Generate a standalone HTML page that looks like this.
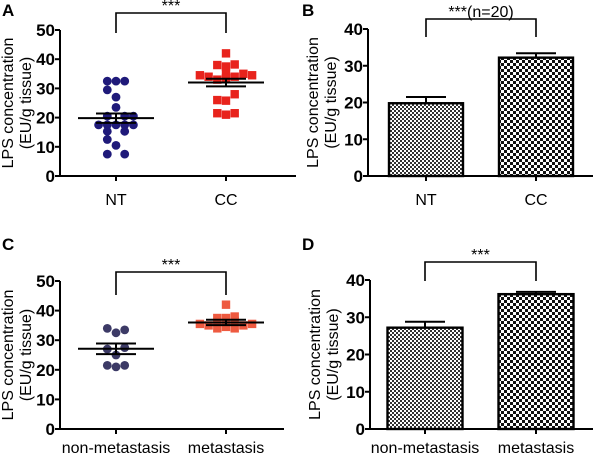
<!DOCTYPE html>
<html><head><meta charset="utf-8"><style>
body{margin:0;background:#fff}
svg{display:block;font-family:"Liberation Sans",Arial,sans-serif}
.tk{font-weight:bold;font-size:17px}
.lab{font-size:16px}
</style></head><body>
<svg id="fig" width="600" height="457" viewBox="0 0 600 457">
<defs>
<pattern id="chkFine" width="4" height="4" patternUnits="userSpaceOnUse"><rect width="4" height="4" fill="#fff"/><rect width="2" height="2" fill="#333"/><rect x="2" y="2" width="2" height="2" fill="#333"/></pattern>
<pattern id="chkCoarse" width="6" height="6" patternUnits="userSpaceOnUse"><rect width="6" height="6" fill="#fff"/><rect width="3" height="3" fill="#111"/><rect x="3" y="3" width="3" height="3" fill="#111"/></pattern>
</defs>
</svg>
<script>
// ---- data ----
const catsAB = ["NT","CC"];
const catsCD = ["non-metastasis","metastasis"];
const ntA = [32.5,32.5,32.5,29.5,27,23.5,20.5,20.5,20.5,17.5,17.5,17.5,17.5,17.5,15.3,15.3,12.5,10.5,7.5,7.5];
const ntAoff = [-1,0,1,-1,0,0,-1,1,2,-2,-1,0,1,2,-1,1,-1,0,-1,1];
const ccA = [42,38,38.2,37.5,35.2,35,34.5,34.5,34,34,33.5,33,28,26,25.8,21.5,21,21.5];
const ccAoff = [0,-1,1,0,0,2,-3,3,-2,1,0,-1,1,-1,0,-1,0,1];
const meanA = [19.8,32];
const semA = [1.6,1.3];
const meanB = [19.8,32.2];
const errB = [1.7,1.2];
const nmC = [34,33.5,32.5,27,27.5,25,21.5,21,21.5];
const nmCoff = [-1,1,0,-1,1,0,-1,0,1];
const mC = [42,38,37.5,37.5,36.5,36,35.5,35.5,35,35,34.5,34,34];
const mCoff = [0,1,-1,0,1,-1,-3,3,-2,2,0,-1,1];
const meanC = [27.1,36];
const semC = [1.8,0.9];
const meanD = [27.2,36.2];
const errD = [1.6,0.6];
const ticksA = [0,10,20,30,40,50];
const ticksB = [0,10,20,30,40];

const S = document.getElementById('fig');
const NS = "http://www.w3.org/2000/svg";
function el(tag, a, parent){const e=document.createElementNS(NS,tag);for(const k in a)e.setAttribute(k,a[k]);(parent||S).appendChild(e);return e;}
function line(x1,y1,x2,y2,w,p){return el('line',{x1,y1,x2,y2,stroke:'#000','stroke-width':w||2},p);}
function text(x,y,t,cls,anchor,p){const e=el('text',{x,y,'text-anchor':anchor||'middle',class:cls||''},p);e.textContent=t;return e;}

function panel(o){
  const g=el('g',{});
  
  
  const yS=v=>o.y0-(v/o.vmax)*(o.y0-o.yTop);
  const t=text(o.lx,o.ly,o.letter,'','start',g);t.setAttribute('font-weight','bold');t.setAttribute('font-size','17');
  
  const ya=line(o.ax,o.yTop,o.ax,o.y0,2,g);
  const xa=line(o.ax,o.y0,o.xEnd,o.y0,2,g);
  o.ticks.forEach(v=>{const y=yS(v);line(o.ax-5,y,o.ax,y,2,g);
    const tl=text(o.ax-5,y+6,String(v),'tk','end',g);
    });
  o.cats.forEach((c,i)=>{line(o.cx[i],o.y0,o.cx[i],o.y0+5,2,g);
    const cl=text(o.cx[i],o.y0+o.catDy,c,'lab','middle',g);cl.setAttribute('font-size','17');
    });
  const cy=(o.yTop+o.y0)/2;
  const yt=el('text',{transform:`translate(${o.tx},${cy}) rotate(-90)`,'text-anchor':'middle',class:'lab'},g);
  yt.textContent='LPS concentration';
  
  const yt2=el('text',{transform:`translate(${o.tx+18},${cy}) rotate(-90)`,'text-anchor':'middle',class:'lab'},g);
  yt2.textContent='(EU/g tissue)';
  
  const bg=el('path',{d:`M${o.cx[0]},${o.bLow}V${o.bTop}H${o.cx[1]}V${o.bLow}`,fill:'none',stroke:'#000','stroke-width':1.6},g);
  
  const st=text((o.cx[0]+o.cx[1])/2,o.bTop-2,o.sig,'lab','middle',g);
  
  return {g,yS};
}

function scatterPanel(o){
  const {g,yS}=panel(o);
  const step=8.7;
  o.series.forEach((s,i)=>{
    s.vals.forEach((v,j)=>{
      const x=o.cx[i]+s.off[j]*step, y=yS(v);
      let m;
      if(s.shape==='circle') m=el('circle',{cx:x,cy:y,r:4.4,fill:s.color},g);
      else m=el('rect',{x:x-4.2,y:y-4.2,width:8.4,height:8.4,fill:s.color},g);
      
      
    });
  });
  o.mean.forEach((m,i)=>{
    const x=o.cx[i];
    const ml=line(x-38,yS(m),x+38,yS(m),2,g);
    
    line(x,yS(m-o.sem[i]),x,yS(m+o.sem[i]),2,g);
    const e1=line(x-20,yS(m+o.sem[i]),x+20,yS(m+o.sem[i]),2,g);
    
    line(x-20,yS(m-o.sem[i]),x+20,yS(m-o.sem[i]),2,g);
  });
}

function barPanel(o){
  const {g,yS}=panel(o);
  o.mean.forEach((m,i)=>{
    const x=o.cx[i], w=o.bw;
    const top=yS(m);
    line(x,top,x,yS(m+o.err[i]),2,g);
    line(x-20,yS(m+o.err[i]),x+20,yS(m+o.err[i]),2,g);
    const r=el('rect',{x:x-w/2,y:top,width:w,height:o.y0-top,fill:i===0?'url(#chkFine)':'url(#chkCoarse)',stroke:'#000','stroke-width':2.4},g);
    
    
  });
  line(o.ax,o.y0,o.xEnd,o.y0,2,g);
}

scatterPanel({letter:'A',lx:2,ly:16,ax:60,xEnd:296,y0:176,yTop:30,vmax:50,ticks:ticksA,cats:catsAB,cx:[116,226],tx:13,catDy:29,
  bTop:13,bLow:33,sig:'***',
  series:[{vals:ntA,off:ntAoff,shape:'circle',color:'#1f1a7a'},{vals:ccA,off:ccAoff,shape:'square',color:'#e8231c'}],
  mean:meanA,sem:semA});
barPanel({letter:'B',lx:302,ly:16,ax:368,xEnd:593,y0:176,yTop:29,vmax:40,ticks:ticksB,cats:catsAB,cx:[426,536],tx:318,catDy:29,
  bTop:19,bLow:37,sig:'***(n=20)',bw:74,mean:meanB,err:errB});
scatterPanel({letter:'C',lx:2,ly:250,ax:60,xEnd:284,y0:429,yTop:281,vmax:50,ticks:ticksA,cats:catsCD,cx:[116,226],tx:13,catDy:24,
  bTop:272,bLow:295,sig:'***',
  series:[{vals:nmC,off:nmCoff,shape:'circle',color:'#3c3a66'},{vals:mC,off:mCoff,shape:'square',color:'#ee5a40'}],
  mean:meanC,sem:semC});
barPanel({letter:'D',lx:302,ly:250,ax:370,xEnd:593,y0:429,yTop:280,vmax:40,ticks:ticksB,cats:catsCD,cx:[425,536],tx:320,catDy:24,
  bTop:262,bLow:281,sig:'***',bw:75,mean:meanD,err:errD});
</script>
</body></html>
